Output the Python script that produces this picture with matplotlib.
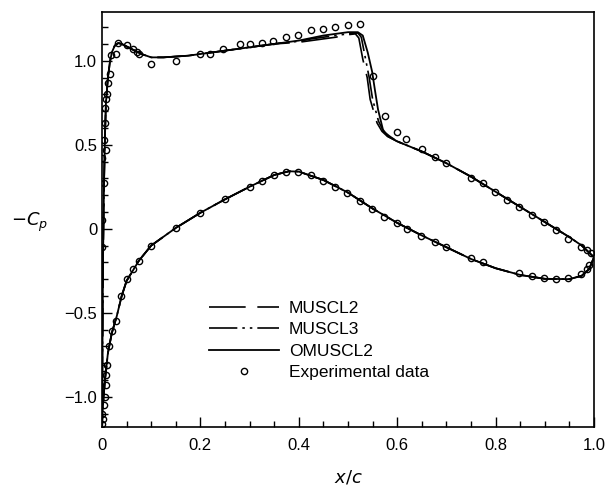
import matplotlib
matplotlib.use('Agg')
import matplotlib.pyplot as plt
from matplotlib.ticker import MultipleLocator, FuncFormatter

plt.rcParams['font.family'] = ['Liberation Sans', 'DejaVu Sans']

# lower surface (shared by all schemes), stagnation point -> trailing edge
x_low = [0.0, 0.002, 0.006, 0.012, 0.02, 0.03, 0.04, 0.05, 0.075, 0.1, 0.15, 0.2, 0.25, 0.3,
         0.35, 0.38, 0.4, 0.45, 0.5, 0.55, 0.6, 0.65, 0.7, 0.75, 0.8, 0.85, 0.9, 0.95,
         0.975, 0.99, 1.0]
cp_low = [-1.16, -1.05, -0.9, -0.74, -0.62, -0.52, -0.40, -0.31, -0.19, -0.10, 0.005, 0.095,
          0.175, 0.25, 0.32, 0.342, 0.34, 0.29, 0.215, 0.12, 0.035, -0.04, -0.11, -0.18,
          -0.235, -0.275, -0.298, -0.30, -0.28, -0.24, -0.17]

# upper surface, leading edge part (shared)
x_up_front = [0.0, 0.001, 0.002, 0.004, 0.006, 0.008, 0.012, 0.016, 0.02, 0.026, 0.033, 0.04,
              0.05, 0.06, 0.07, 0.08, 0.1, 0.125, 0.15, 0.175, 0.2, 0.225, 0.25, 0.275, 0.3]
cp_up_front = [-1.16, -0.7, -0.2, 0.25, 0.55, 0.75, 0.9, 0.99, 1.05, 1.09, 1.105, 1.10,
               1.085, 1.07, 1.055, 1.04, 1.02, 1.02, 1.025, 1.03, 1.04, 1.05, 1.06, 1.07, 1.08]

# upper surface, shock region per scheme
x_mid_muscl2 = [0.325, 0.35, 0.375, 0.4, 0.425, 0.45, 0.475, 0.5, 0.515, 0.522, 0.53, 0.539,
                0.545, 0.559, 0.569, 0.58, 0.6]
cp_mid_muscl2 = [1.09, 1.10, 1.105, 1.11, 1.12, 1.13, 1.14, 1.155, 1.16, 1.135, 1.01, 0.90,
                 0.77, 0.63, 0.58, 0.55, 0.52]
x_mid_muscl3 = [0.325, 0.35, 0.375, 0.4, 0.425, 0.45, 0.475, 0.5, 0.52, 0.527, 0.535, 0.543,
                0.55, 0.562, 0.572, 0.585, 0.6]
cp_mid_muscl3 = [1.09, 1.10, 1.11, 1.115, 1.13, 1.14, 1.15, 1.16, 1.165, 1.14, 1.02, 0.90,
                 0.77, 0.64, 0.58, 0.55, 0.52]
x_mid_omuscl2 = [0.325, 0.35, 0.375, 0.4, 0.425, 0.45, 0.475, 0.5, 0.52, 0.53, 0.54, 0.549,
                 0.555, 0.561, 0.571, 0.581, 0.6]
cp_mid_omuscl2 = [1.09, 1.10, 1.11, 1.12, 1.135, 1.15, 1.16, 1.17, 1.17, 1.15, 1.05, 0.935,
                  0.82, 0.71, 0.59, 0.55, 0.52]

# upper surface, rear part (shared)
x_up_rear = [0.625, 0.65, 0.7, 0.75, 0.8, 0.85, 0.9, 0.95, 0.975, 1.0]
cp_up_rear = [0.49, 0.46, 0.39, 0.31, 0.22, 0.13, 0.04, -0.05, -0.10, -0.17]

# experimental data
exp_x = [0.0, 0.002, 0.0, 0.004, 0.006, 0.008, 0.008, 0.002, 0.01, 0.014, 0.02, 0.028, 0.039,
         0.051, 0.063, 0.075, 0.10, 0.15, 0.20, 0.25, 0.30, 0.325, 0.35, 0.374, 0.398, 0.425,
         0.449, 0.474, 0.498, 0.524, 0.549, 0.573, 0.60, 0.62, 0.648, 0.677, 0.70, 0.75, 0.774,
         0.848, 0.874, 0.898, 0.923, 0.947, 0.974, 0.986, 0.99,
         0.0, 0.0, 0.004, 0.0, 0.008, 0.004, 0.006, 0.006, 0.008, 0.01, 0.012, 0.016, 0.018,
         0.028, 0.033, 0.051, 0.063, 0.071, 0.075, 0.10, 0.15, 0.20, 0.22, 0.246, 0.28, 0.30,
         0.325, 0.348, 0.374, 0.398, 0.425, 0.449, 0.474, 0.50, 0.524, 0.551, 0.575, 0.60,
         0.618, 0.65, 0.677, 0.70, 0.75, 0.774, 0.799, 0.823, 0.848, 0.874, 0.898, 0.923,
         0.947, 0.974, 0.986, 0.994]
exp_cp = [-1.16, -1.13, -1.10, -1.05, -1.0, -0.93, -0.87, -0.83, -0.81, -0.70, -0.61, -0.55,
          -0.40, -0.30, -0.24, -0.19, -0.10, 0.006, 0.095, 0.18, 0.25, 0.286, 0.32, 0.339,
          0.339, 0.32, 0.286, 0.25, 0.214, 0.167, 0.119, 0.071, 0.036, 0.0, -0.042, -0.077,
          -0.107, -0.173, -0.196, -0.262, -0.28, -0.292, -0.298, -0.292, -0.268, -0.238, -0.214,
          -0.11, 0.05, 0.27, 0.42, 0.47, 0.53, 0.63, 0.72, 0.77, 0.80, 0.87, 0.92, 1.036,
          1.04, 1.107, 1.095, 1.07, 1.05, 1.04, 0.98, 1.0, 1.04, 1.04, 1.07, 1.10, 1.10,
          1.107, 1.12, 1.143, 1.155, 1.18, 1.19, 1.20, 1.214, 1.22, 0.911, 0.673, 0.577,
          0.536, 0.476, 0.429, 0.393, 0.304, 0.274, 0.22, 0.173, 0.131, 0.083, 0.042, -0.006,
          -0.06, -0.107, -0.125, -0.143]


def full_curve(x_mid, cp_mid):
    xs = x_low[::-1] + x_up_front[1:] + x_mid + x_up_rear
    cps = cp_low[::-1] + cp_up_front[1:] + cp_mid + cp_up_rear
    return xs, cps


fig = plt.figure(figsize=(6.09, 4.88), dpi=100)
ax = fig.add_axes([0.1675, 0.125, 0.8079, 0.8504])

xs, cps = full_curve(x_mid_muscl2, cp_mid_muscl2)
ax.plot(xs, cps, color='black', lw=1.2, linestyle=(0, (22, 7)), label='MUSCL2')
xs, cps = full_curve(x_mid_muscl3, cp_mid_muscl3)
ax.plot(xs, cps, color='black', lw=1.2, linestyle=(0, (17, 3, 1.5, 3, 1.5, 3)), label='MUSCL3')
xs, cps = full_curve(x_mid_omuscl2, cp_mid_omuscl2)
ax.plot(xs, cps, color='black', lw=1.3, linestyle='-', label='OMUSCL2')
ax.plot(exp_x, exp_cp, 'o', mfc='none', mec='black', mew=1.0, ms=4.5,
        label='Experimental data')

ax.set_xlim(0, 1.0)
ax.set_ylim(-1.18, 1.29)
ax.xaxis.set_major_locator(MultipleLocator(0.2))
ax.xaxis.set_minor_locator(MultipleLocator(0.05))
ax.yaxis.set_major_locator(MultipleLocator(0.5))
ax.yaxis.set_minor_locator(MultipleLocator(0.1))
fmt = FuncFormatter(lambda v, p: '0' if abs(v) < 1e-9 else ('%.1f' % v).replace('-', '\u2212'))
ax.xaxis.set_major_formatter(fmt)
ax.yaxis.set_major_formatter(fmt)
ax.tick_params(which='both', direction='in', labelsize=12, top=False, right=False)
ax.tick_params(which='major', length=7, width=1)
ax.tick_params(which='minor', length=4, width=1)
ax.tick_params(axis='x', pad=8)
for s in ax.spines.values():
    s.set_linewidth(1.2)

ax.legend(loc='upper left', bbox_to_anchor=(0.2, 0.325), frameon=False, fontsize=12.5,
          handlelength=4.0, handletextpad=0.6, labelspacing=0.36, borderpad=0)

fig.text(0.049, 0.545, r'$-C_p$', fontsize=13, ha='center', va='center')
fig.text(0.572, 0.022, r'$x/c$', fontsize=13, ha='center', va='center')

fig.savefig('out.png', dpi=100)
